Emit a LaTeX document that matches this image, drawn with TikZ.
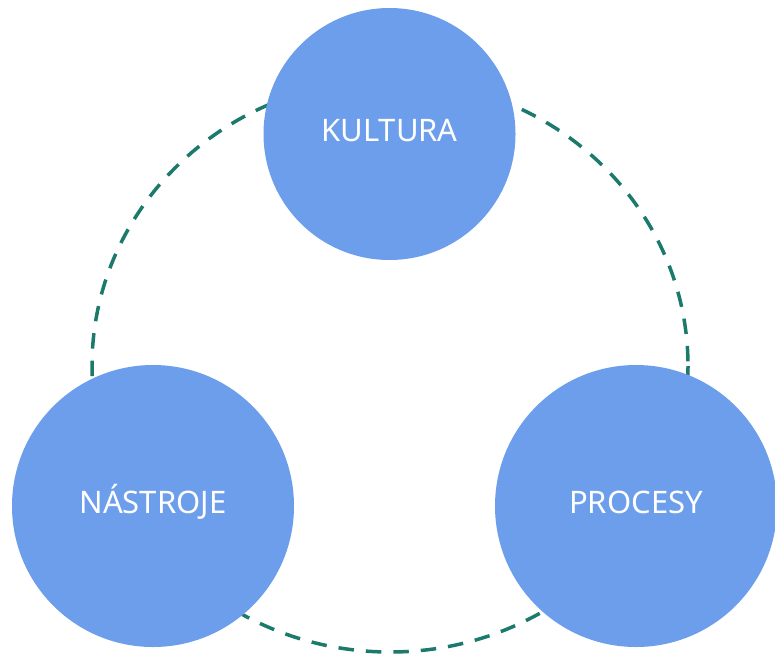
\documentclass[tikz,border=0pt]{standalone}
\usepackage{fontspec}
\setmainfont{Noto Sans}
\definecolor{blob}{HTML}{6D9EEB}
\definecolor{ring}{HTML}{1B7A6C}
\begin{document}
\begin{tikzpicture}[x=1pt,y=-1pt,
  blobnode/.style={circle,fill=blob,inner sep=0pt,text=white,
    font=\fontsize{31}{34}\selectfont,text height=22pt,text depth=7pt},
  ringline/.style={draw=ring,line width=3.5pt,dash pattern=on 15.5pt off 12pt}]
\useasboundingbox (0,0) rectangle (775,656);
\coordinate (c) at (390,366);
\draw[ringline] (c) ellipse[x radius=298,y radius=286];
\node[blobnode,minimum size=252pt] (k) at (389.5,134) {KULTURA};
\node[blobnode,minimum size=282pt] (n) at (153,506) {NÁSTROJE};
\node[blobnode,minimum size=282pt] (p) at (636,506) {PROCESY};
\end{tikzpicture}
\end{document}
